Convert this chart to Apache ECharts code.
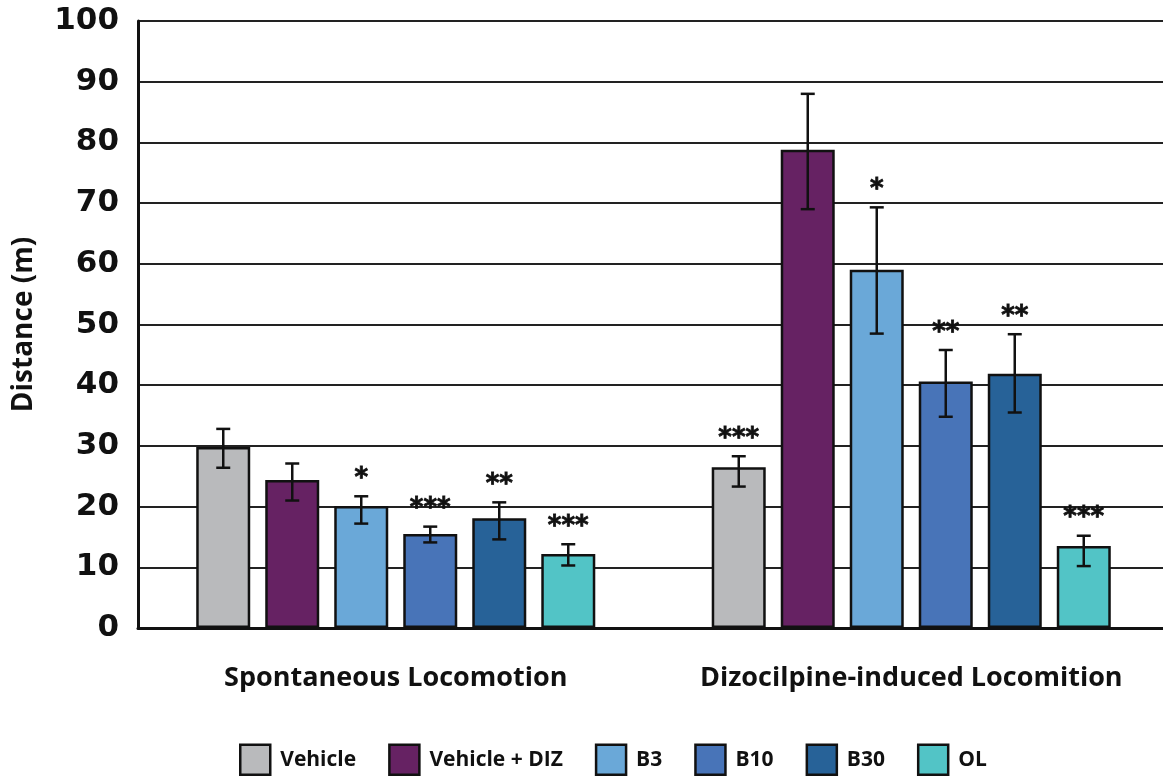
<!DOCTYPE html>
<html lang="en">
<head>
    <meta charset="UTF-8">
    <title>Distance</title>
    <script src="https://cdn.jsdelivr.net/npm/echarts@6/dist/echarts.min.js"></script>
    <style>
        html, body { margin: 0; padding: 0; background: #fff; }
        #chart { width: 1163px; height: 778px; }
    </style>
</head>
<body>
<div id="chart"></div>
<script>
    // categories and groups
    var categories = ['Spontaneous Locomotion', 'Dizocilpine-induced Locomition'];
    var groupNames = ['Vehicle', 'Vehicle + DIZ', 'B3', 'B10', 'B30', 'OL'];
    var colors = ['#b9babc', '#662263', '#6aa8d8', '#4874b8', '#276298', '#52c4c6'];

    // means, upper and lower error bar ends, significance marks
    var vehicleMean = [29.8, 26.5];
    var vehicleHi = [32.8, 28.3];
    var vehicleLo = [26.4, 23.3];
    var vehicleSig = ['', '***'];

    var dizMean = [24.4, 78.8];
    var dizHi = [27.1, 88.0];
    var dizLo = [21.0, 69.0];
    var dizSig = ['', ''];

    var b3Mean = [20.1, 59.0];
    var b3Hi = [21.7, 69.3];
    var b3Lo = [17.2, 48.5];
    var b3Sig = ['*', '*'];

    var b10Mean = [15.5, 40.6];
    var b10Hi = [16.7, 45.8];
    var b10Lo = [14.1, 34.8];
    var b10Sig = ['***', '**'];

    var b30Mean = [18.1, 41.9];
    var b30Hi = [20.7, 48.4];
    var b30Lo = [14.6, 35.5];
    var b30Sig = ['**', '**'];

    var olMean = [12.2, 13.5];
    var olHi = [13.8, 15.2];
    var olLo = [10.3, 10.2];
    var olSig = ['***', '***'];

    var yTicks = [0, 10, 20, 30, 40, 50, 60, 70, 80, 90, 100];

    var means = [vehicleMean, dizMean, b3Mean, b10Mean, b30Mean, olMean];
    var his = [vehicleHi, dizHi, b3Hi, b10Hi, b30Hi, olHi];
    var los = [vehicleLo, dizLo, b3Lo, b10Lo, b30Lo, olLo];
    var sigs = [vehicleSig, dizSig, b3Sig, b10Sig, b30Sig, olSig];

    var barWidth = 54;
    var barGapPx = 15;
    var txtFont = '"Open Sans", sans-serif';

    var series = [];
    groupNames.forEach(function (name, i) {
        series.push({
            name: name,
            type: 'bar',
            barWidth: barWidth,
            barGap: (barGapPx / barWidth * 100).toFixed(1) + '%',
            itemStyle: { color: colors[i], borderColor: '#111', borderWidth: 2.5 },
            data: means[i],
            z: 2
        });
    });

    // error bars + significance stars
    groupNames.forEach(function (name, i) {
        var offset = (i - (groupNames.length - 1) / 2) * (barWidth + barGapPx);
        series.push({
            type: 'custom',
            z: 5,
            silent: true,
            data: categories.map(function (c, k) { return [k, los[i][k], his[i][k]]; }),
            renderItem: function (params, api) {
                var k = api.value(0);
                var top = api.coord([k, api.value(2)]);
                var bot = api.coord([k, api.value(1)]);
                var x = top[0] + offset;
                var cap = 7;
                var st = { stroke: '#111', lineWidth: 2.5 };
                var children = [
                    { type: 'line', shape: { x1: x, y1: top[1], x2: x, y2: bot[1] }, style: st },
                    { type: 'line', shape: { x1: x - cap, y1: top[1], x2: x + cap, y2: top[1] }, style: st },
                    { type: 'line', shape: { x1: x - cap, y1: bot[1], x2: x + cap, y2: bot[1] }, style: st }
                ];
                var s = sigs[i][k];
                if (s) {
                    children.push({
                        type: 'text',
                        style: {
                            text: s, x: x, y: top[1] - 4,
                            align: 'center', verticalAlign: 'bottom',
                            font: 'bold 26px "DejaVu Sans"', fill: '#111',
                            stroke: '#111', lineWidth: 0.8
                        }
                    });
                }
                return { type: 'group', children: children };
            }
        });
    });

    var chart = echarts.init(document.getElementById('chart'));
    chart.setOption({
        animation: false,
        backgroundColor: '#fff',
        grid: { left: 138, right: -6, top: 21, bottom: 150, outerBoundsMode: 'none', containLabel: false },
        legend: {
            data: groupNames,
            left: 234,
            bottom: -3,
            itemWidth: 30,
            itemHeight: 30,
            itemGap: 32,
            icon: 'rect',
            itemStyle: { borderColor: '#111', borderWidth: 2.5 },
            textStyle: { fontFamily: txtFont, fontWeight: 'bold', fontSize: 21, color: '#111', padding: [0, 0, 0, 5] }
        },
        xAxis: {
            type: 'category',
            data: categories,
            axisTick: { show: false },
            axisLine: { lineStyle: { color: '#111', width: 3 } },
            axisLabel: { interval: 0, margin: 37, fontFamily: txtFont, fontWeight: 'bold', fontSize: 27, color: '#111' }
        },
        yAxis: {
            type: 'value',
            min: yTicks[0],
            max: yTicks[yTicks.length - 1],
            interval: 10,
            name: 'Distance (m)',
            nameLocation: 'middle',
            nameGap: 100,
            nameTextStyle: { fontFamily: txtFont, fontWeight: 'bold', fontSize: 28, color: '#111' },
            axisLine: { show: true, lineStyle: { color: '#111', width: 3 } },
            axisTick: { show: false },
            axisLabel: { margin: 19, fontFamily: '"DejaVu Sans"', fontWeight: 'bold', fontSize: 31, color: '#111' },
            splitLine: { lineStyle: { color: '#222', width: 2 } }
        },
        series: series
    });
</script>
</body>
</html>
